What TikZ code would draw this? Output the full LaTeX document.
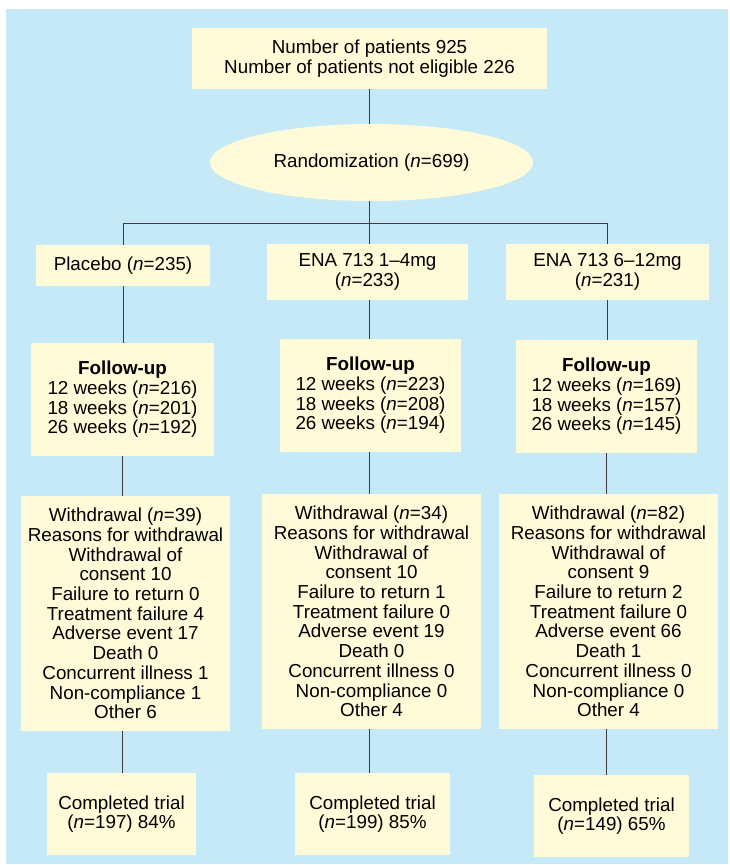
\documentclass[tikz,border=0pt]{standalone}
\usepackage{fontspec}
\setmainfont{Liberation Sans}
\usetikzlibrary{shapes.geometric}
\definecolor{bgblue}{RGB}{198,233,248}
\definecolor{paleyellow}{RGB}{255,250,215}
\definecolor{linegray}{RGB}{60,60,60}
\newcommand{\nn}{\textit{n}}

\begin{document}
\begin{tikzpicture}[x=1pt,y=-1pt,
    box/.style={fill=paleyellow, inner sep=0pt, align=center,
      font=\fontsize{18.8}{19.7}\selectfont},
    oval/.style={ellipse, fill=paleyellow, inner sep=0pt,
      font=\fontsize{18.8}{19.7}\selectfont},
    link/.style={draw=linegray, line width=1pt}]
  \useasboundingbox (0,0) rectangle (730,865);
  \fill[bgblue] (6,9) rectangle (728,864);

  % top of the chart
  \node[box, minimum width=355, minimum height=61] (total) at (369.5,58.5)
    {Number of patients 925\\Number of patients not eligible 226};
  \node[oval, minimum width=323, minimum height=77] (rand) at (371.5,162.5)
    {Randomization (\nn=699)};
  \coordinate (split) at (369.5,223);

  % arms
  \node[box, minimum width=174, minimum height=41] (plac) at (123,265.5)
    {Placebo (\nn=235)};
  \node[box, minimum width=201, minimum height=56] (low) at (367.5,272)
    {ENA 713 1--4mg\\(\nn=233)};
  \node[box, minimum width=203, minimum height=56] (high) at (607.5,272)
    {ENA 713 6--12mg\\(\nn=231)};

  % follow-up
  \node[box, minimum width=183, minimum height=113] (fuplac) at (122.5,399.5)
    {\textbf{Follow-up}\\12 weeks (\nn=216)\\18 weeks (\nn=201)\\26 weeks (\nn=192)};
  \node[box, minimum width=181, minimum height=113] (fulow) at (370.5,395.5)
    {\textbf{Follow-up}\\12 weeks (\nn=223)\\18 weeks (\nn=208)\\26 weeks (\nn=194)};
  \node[box, minimum width=181, minimum height=113] (fuhigh) at (606.5,396.5)
    {\textbf{Follow-up}\\12 weeks (\nn=169)\\18 weeks (\nn=157)\\26 weeks (\nn=145)};

  % withdrawals
  \node[box, minimum width=209, minimum height=235] (wdplac) at (125.5,613.5)
    {Withdrawal (\nn=39)\\Reasons for withdrawal\\Withdrawal of\\consent 10\\
     Failure to return 0\\Treatment failure 4\\Adverse event 17\\Death 0\\
     Concurrent illness 1\\Non-compliance 1\\Other 6};
  \node[box, minimum width=219, minimum height=235] (wdlow) at (371.5,611.5)
    {Withdrawal (\nn=34)\\Reasons for withdrawal\\Withdrawal of\\consent 10\\
     Failure to return 1\\Treatment failure 0\\Adverse event 19\\Death 0\\
     Concurrent illness 0\\Non-compliance 0\\Other 4};
  \node[box, minimum width=219, minimum height=235] (wdhigh) at (608.5,611.5)
    {Withdrawal (\nn=82)\\Reasons for withdrawal\\Withdrawal of\\consent 9\\
     Failure to return 2\\Treatment failure 0\\Adverse event 66\\Death 1\\
     Concurrent illness 0\\Non-compliance 0\\Other 4};

  % completed
  \node[box, minimum width=149, minimum height=82] (cplac) at (121.5,814)
    {Completed trial\\(\nn=197) 84\%};
  \node[box, minimum width=155, minimum height=82] (clow) at (372.5,814)
    {Completed trial\\(\nn=199) 85\%};
  \node[box, minimum width=155, minimum height=82] (chigh) at (611.5,816)
    {Completed trial\\(\nn=149) 65\%};

  % connectors
  \draw[link] (total) -- (total |- rand.north);
  \draw[link] (split |- rand.south) -- (split);
  \draw[link] (split) -| (plac);
  \draw[link] (split) -- (split |- low.north);
  \draw[link] (split) -| (high);
  \draw[link] (plac) -- (plac |- fuplac.north);
  \draw[link] (split |- low.south) -- (split |- fulow.north);
  \draw[link] (high) -- (high |- fuhigh.north);
  \draw[link] (fuplac) -- (fuplac |- wdplac.north);
  \draw[link] (split |- fulow.south) -- (split |- wdlow.north);
  \draw[link] (fuhigh) -- (fuhigh |- wdhigh.north);
  \draw[link] (fuplac |- wdplac.south) -- (fuplac |- cplac.north);
  \draw[link] (split |- wdlow.south) -- (split |- clow.north);
  \draw[link] (fuhigh |- wdhigh.south) -- (fuhigh |- chigh.north);
\end{tikzpicture}
\end{document}
